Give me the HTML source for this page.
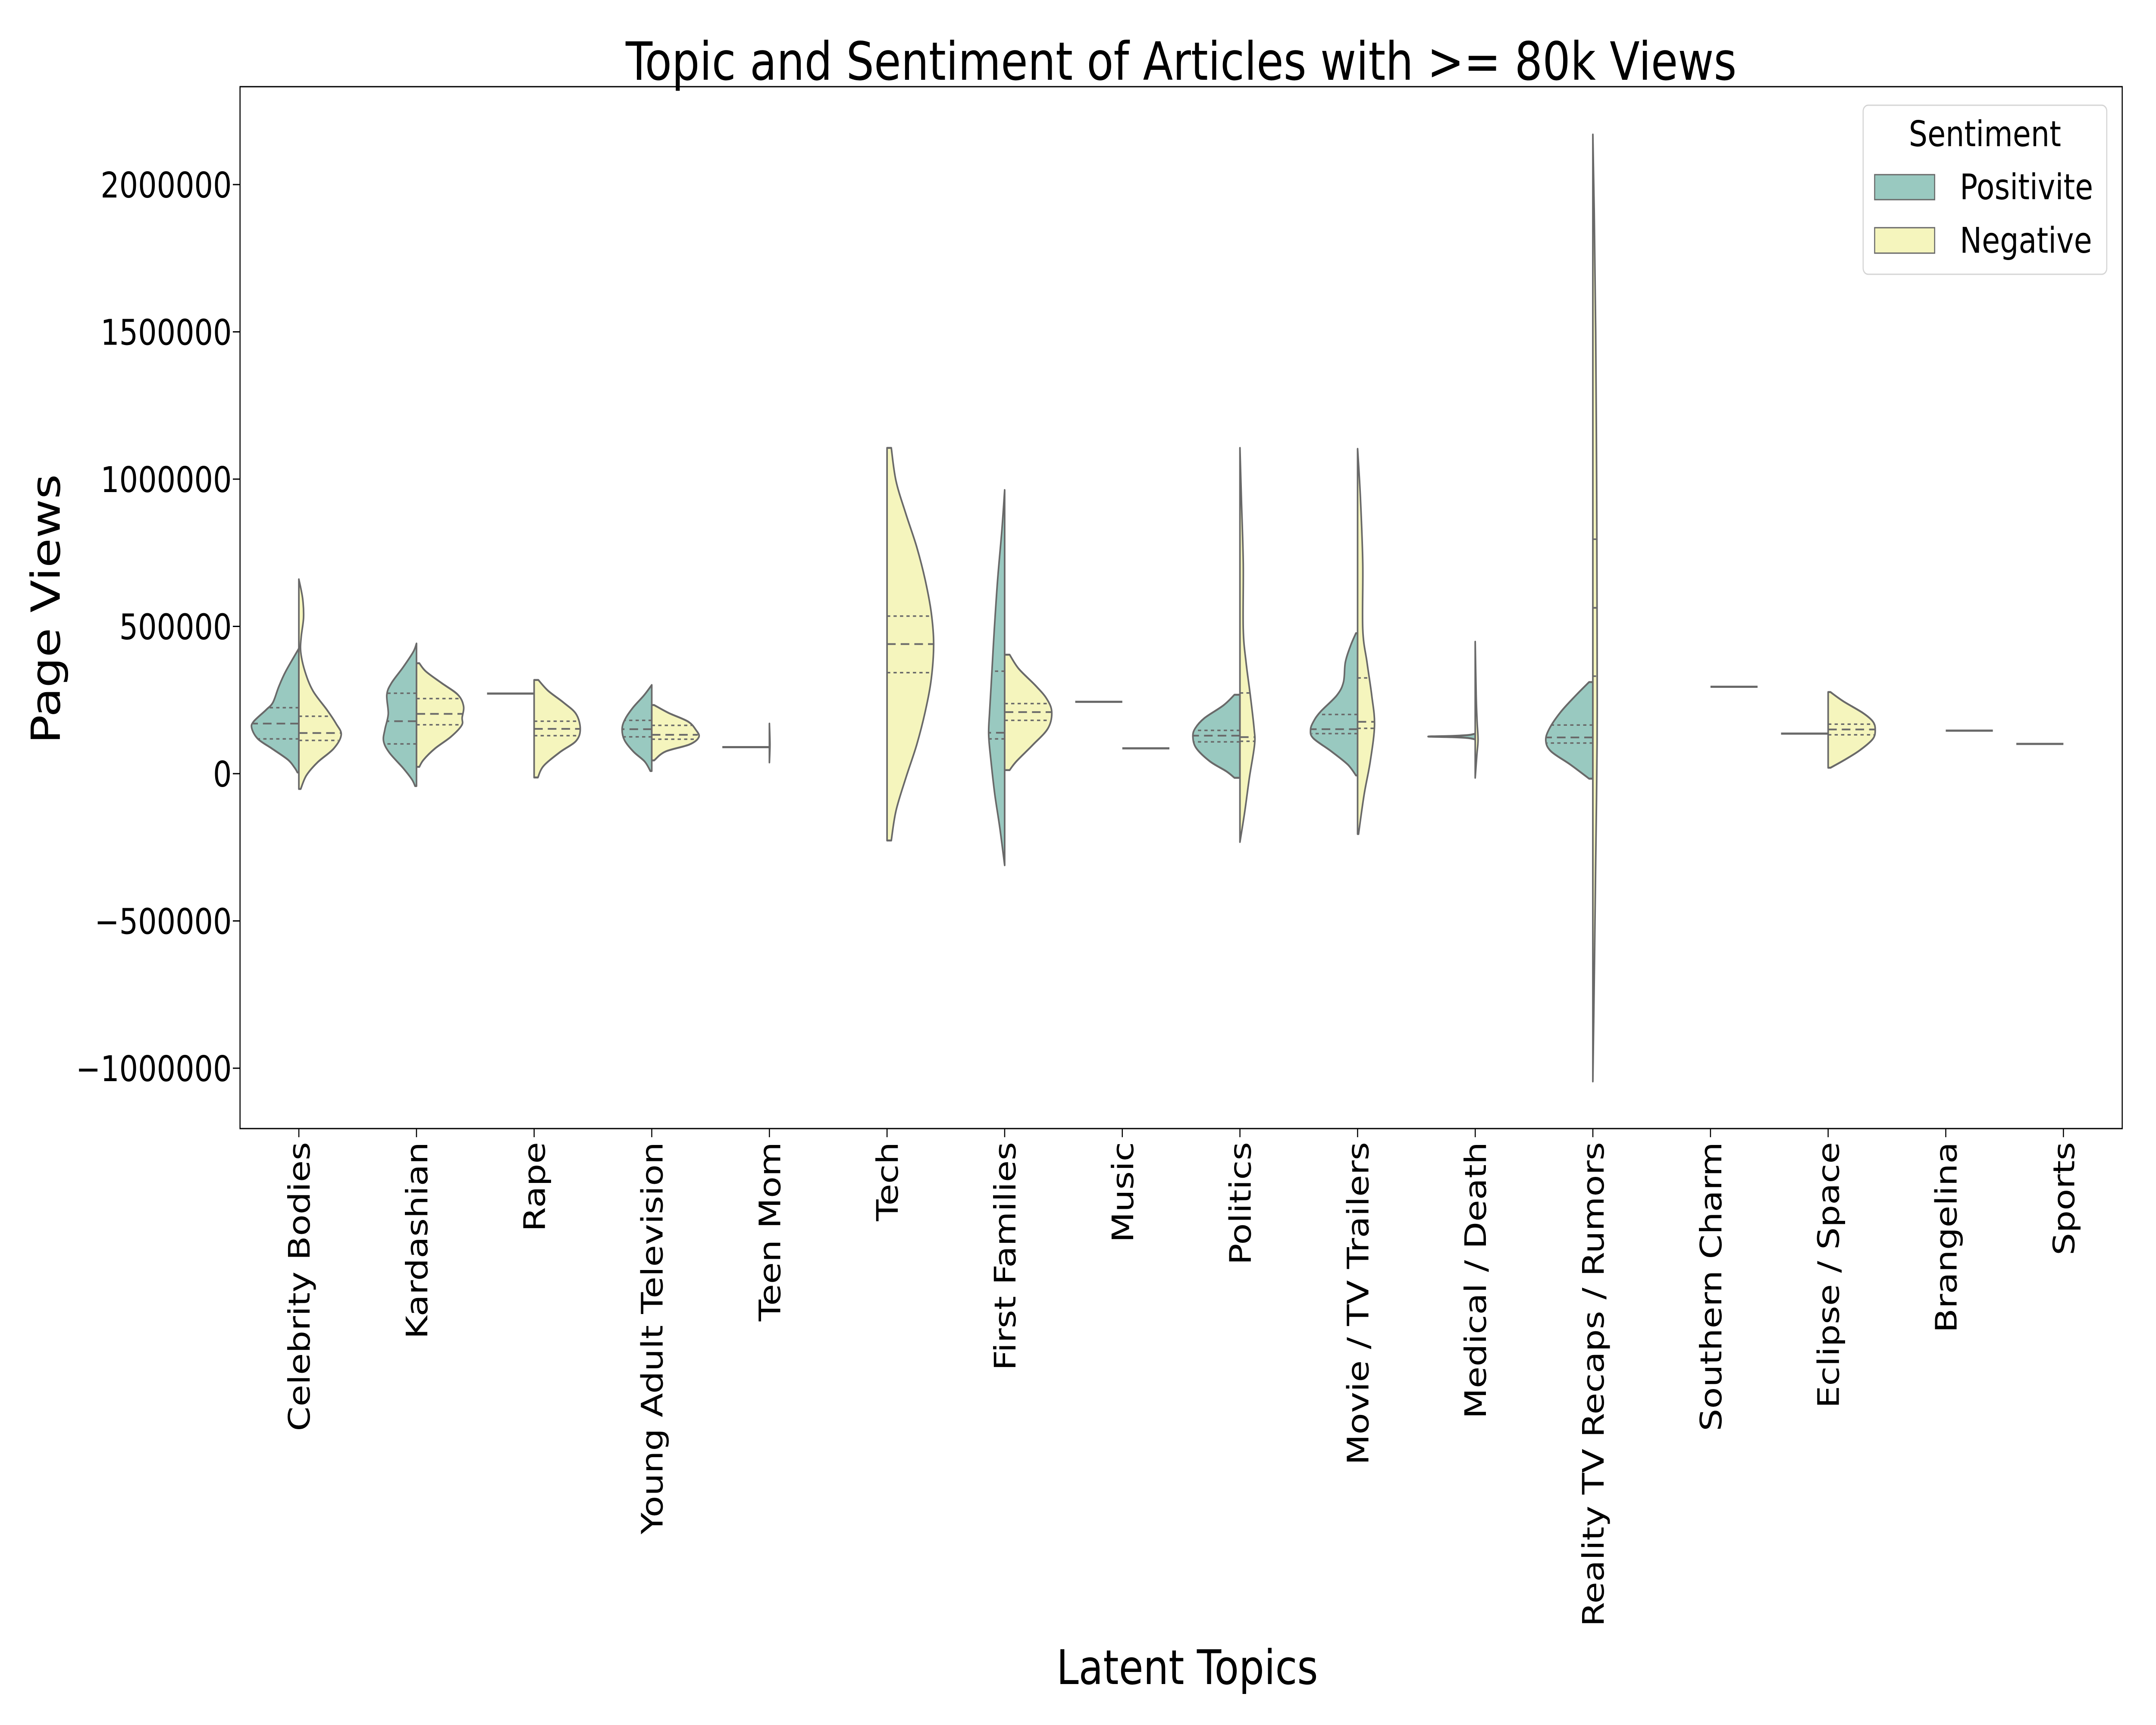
<!DOCTYPE html>
<html><head><meta charset="utf-8"><title>Topic and Sentiment of Articles</title>
<style>
html,body{margin:0;padding:0;background:#fff;overflow:hidden;width:100%;height:100%;}
svg{display:block;width:100vw;height:100vh;font-family:"DejaVu Sans","Liberation Sans",sans-serif;}
</style></head>
<body>
<svg id="chart" viewBox="0 0 6000 4000" preserveAspectRatio="none" xmlns="http://www.w3.org/2000/svg">
  <rect x="0" y="0" width="6000" height="4000" fill="#ffffff"/>
  <text x="3287" y="185" font-size="122" text-anchor="middle">Topic and Sentiment of Articles with &gt;= 80k Views</text>
  <text transform="translate(166,1412) rotate(-90)" font-size="111" text-anchor="middle">Page Views</text>
  <text x="3304" y="3905" font-size="111" text-anchor="middle">Latent Topics</text>
  <g id="marks"></g>
  <g id="axes"></g>
  <rect x="668" y="201" width="5238" height="2416" fill="none" stroke="#000" stroke-width="3"/>
  <g>
    <rect x="5185" y="244" width="678" height="392" rx="14" fill="#fff" fill-opacity="0.8" stroke="#d4d4d4" stroke-width="3"/>
    <text x="5524" y="339" font-size="82" text-anchor="middle">Sentiment</text>
    <rect x="5217" y="405" width="167" height="58" fill="#99c9c0" stroke="#696969" stroke-width="3"/>
    <text x="5454" y="462" font-size="82">Positivite</text>
    <rect x="5217" y="528" width="167" height="59" fill="#f5f5bd" stroke="#696969" stroke-width="3"/>
    <text x="5454" y="586" font-size="82">Negative</text>
  </g>
</svg>
<script>
// ---- data (values in thousands of page views) ----
const categories = ["Celebrity Bodies","Kardashian","Rape","Young Adult Television","Teen Mom","Tech","First Families","Music","Politics","Movie / TV Trailers","Medical / Death","Reality TV Recaps / Rumors","Southern Charm","Eclipse / Space","Brangelina","Sports"];
const yTicks = [-1000000,-500000,0,500000,1000000,1500000,2000000];
// density profiles: values (k) and relative half-widths
const posVals = [
 [425,347,294,242,216,177,154,118,85,47,20,4],
 [442,413,360,308,268,203,151,111,72,20,-19,-42],
 null,
 [301,265,226,187,153,114,75,41,9],
 null,
 null,
 [963,826,658,490,322,210,132,42,-70,-182,-311],
 null,
 [268,232,188,154,126,87,42,8,-14],
 [477,434,378,311,266,210,176,148,120,76,31,-6],
 [135,131,128,126,124,121,117],
 [311,266,210,154,113,76,31,-17],
 null,null,null,null];
const posWidths = [
 [0,.28,.43,.55,.70,.96,1,.87,.57,.23,.09,.03],
 [0,.07,.29,.53,.63,.60,.67,.70,.58,.29,.1,.03],
 null,
 [0,.17,.39,.56,.63,.58,.39,.15,.03],
 null,
 null,
 [0,.06,.15,.22,.28,.32,.34,.29,.21,.105,0],
 null,
 [.117,.35,.76,.95,1,.93,.64,.29,.117],
 [.035,.15,.26,.30,.44,.79,.94,1,.94,.56,.21,.035],
 [.02,.15,.5,1,.5,.15,.02],
 [.08,.36,.68,.92,1,.89,.48,.08],
 null,null,null,null];
const negVals = [
 [660,595,530,464,413,347,281,216,170,132,85,39,-6,-52],
 [375,347,308,268,229,190,164,125,85,47,23],
 [318,281,242,203,152,111,72,26,-13],
 [233,206,177,148,124,99,75,45],
 [170,100,38],
 [1106,994,882,770,658,546,440,322,210,98,-14,-126,-227],
 [404,356,300,255,210,154,98,42,12],
 null,
 [1106,938,714,490,378,266,154,98,-14,-126,-232],
 [1103,938,714,490,378,266,165,42,-70,-205],
 [448,266,176,115,64,-14],
 [2170,1900,1500,1000,500,100,-300,-700,-1045],
 null,
 [277,245,206,177,150,118,79,45,20],
 null,null];
const negWidths = [
 [0,.08,.1,.05,.04,.13,.30,.60,.79,.90,.74,.40,.16,.04],
 [.06,.2,.53,.88,1,.97,.96,.73,.39,.15,.06],
 [.09,.3,.62,.89,.98,.89,.54,.2,.08],
 [.05,.36,.77,.94,1,.8,.29,.05],
 [0,.012,0],
 [.09,.19,.40,.63,.81,.94,.99,.94,.81,.63,.40,.19,.09],
 [.105,.30,.65,.89,1,.92,.6,.25,.105],
 null,
 [0,.03,.07,.07,.13,.22,.30,.31,.2,.105,0],
 [0,.06,.11,.11,.2,.3,.36,.27,.14,.02],
 [0,.02,.04,.06,.035,0],
 [0,.03,.06,.08,.09,.09,.06,.03,0],
 null,
 [.05,.33,.74,.95,1,.95,.67,.33,.05],
 null,null];
// quartiles [q1, median, q3]
const posQuart = [[118,170,224],[101,178,273],null,[125,151,181],null,null,[118,139,348],null,[108,129,147],[136,151,201],null,[104,123,165],null,null,null,null];
const negQuart = [[113,138,195],[166,203,255],[129,152,178],[117,132,164],null,[343,440,535],[181,209,238],null,[110,124,274],[154,176,325],null,[331,563,796],null,[132,150,168],null,null];
// single-observation groups
const posSingle = [null,null,272,null,90,null,null,244,null,null,null,null,null,136,null,101];
const negSingle = [null,null,null,null,null,null,null,86,null,null,null,null,295,null,146,null];

// ---- scales ----
const NS = "http://www.w3.org/2000/svg";
const plotL = 668, plotR = 5906, plotT = 201, plotB = 2617;
const band = (plotR - plotL) / categories.length;
const halfW = 131;
function xScale(i){ return plotL + band * (i + 0.5); }
function yScale(v){ return 1794 - v * 0.000683; }   // v in page views
function yk(k){ return yScale(k * 1000); }
const LINE = "#696969";

function el(tag, attrs, parent){
  const e = document.createElementNS(NS, tag);
  for (const k in attrs) e.setAttribute(k, attrs[k]);
  parent.appendChild(e);
  return e;
}
function smoothPath(pts){
  let d = "";
  for (let i = 0; i < pts.length - 1; i++){
    const p0 = pts[Math.max(i-1,0)], p1 = pts[i], p2 = pts[i+1], p3 = pts[Math.min(i+2,pts.length-1)];
    const c1x = p1[0] + (p2[0]-p0[0])/6, c1y = p1[1] + (p2[1]-p0[1])/6;
    const c2x = p2[0] - (p3[0]-p1[0])/6, c2y = p2[1] - (p3[1]-p1[1])/6;
    d += " C" + c1x.toFixed(1) + "," + c1y.toFixed(1) + " " + c2x.toFixed(1) + "," + c2y.toFixed(1) + " " + p2[0].toFixed(1) + "," + p2[1].toFixed(1);
  }
  return d;
}
function widthAt(vals, ws, v){
  for (let i = 0; i < vals.length - 1; i++){
    if (v <= vals[i] && v >= vals[i+1]){
      const t = (vals[i] - v) / (vals[i] - vals[i+1]);
      return ws[i] + t * (ws[i+1] - ws[i]);
    }
  }
  return 0;
}

const marks = document.getElementById("marks");
const axes = document.getElementById("axes");

categories.forEach((name, i) => {
  const cx = xScale(i);
  [[posVals, posWidths, posQuart, -1, "#99c9c0", "positive"], [negVals, negWidths, negQuart, 1, "#f5f5bd", "negative"]].forEach(cfg => {
    const vals = cfg[0][i], ws = cfg[1][i], q = cfg[2][i], dir = cfg[3];
    if (!vals) return;
    const pts = vals.map((v, j) => [cx + dir * ws[j] * halfW, yk(v)]);
    let d = "M" + cx.toFixed(1) + "," + pts[0][1].toFixed(1) + " L" + pts[0][0].toFixed(1) + "," + pts[0][1].toFixed(1);
    d += smoothPath(pts);
    d += " L" + cx.toFixed(1) + "," + pts[pts.length-1][1].toFixed(1) + " Z";
    const p = el("path", {d: d, fill: cfg[4], stroke: LINE, "stroke-width": 4.5, "stroke-linejoin": "round"}, marks);
    
    
    if (q){
      q.forEach((qv, k) => {
        const w = widthAt(vals, ws, qv) * halfW;
        const ln = el("line", {x1: cx, x2: cx + dir * w, y1: yk(qv), y2: yk(qv), stroke: LINE, "stroke-width": k === 1 ? 4 : 3.5, "stroke-dasharray": k === 1 ? "24,14" : "9,9"}, marks);
        
        
      });
    }
  });
  [[posSingle, -1, "positive"], [negSingle, 1, "negative"]].forEach(cfg => {
    const v = cfg[0][i];
    if (v === null) return;
    const ln = el("line", {x1: cx, x2: cx + cfg[1] * halfW, y1: yk(v), y2: yk(v), stroke: LINE, "stroke-width": 5}, marks);
    
    
  });
  const t = el("line", {x1: cx, x2: cx, y1: plotB, y2: plotB + 20, stroke: "#000", "stroke-width": 3}, axes);
  
  
  const lx = cx + 30, ly = 2648;
  const tx = el("text", {transform: "translate(" + lx + "," + ly + ") rotate(-90)", "font-size": 82, "text-anchor": "end"}, axes);
  tx.textContent = name;
  
  
});

yTicks.forEach(v => {
  const y = yScale(v);
  const t = el("line", {x1: plotL - 20, x2: plotL, y1: y, y2: y, stroke: "#000", "stroke-width": 3}, axes);
  
  
  const tx = el("text", {x: 645, y: y + 30, "font-size": 82, "text-anchor": "end"}, axes);
  tx.textContent = v < 0 ? "\u2212" + Math.abs(v) : String(v);
  
  
});
</script>
</body></html>
